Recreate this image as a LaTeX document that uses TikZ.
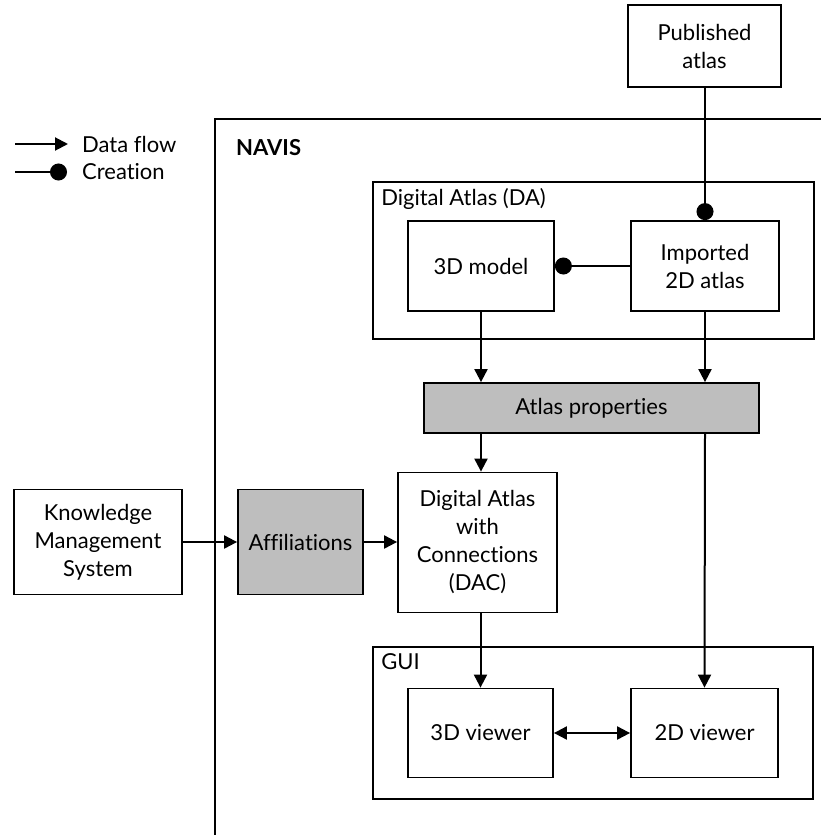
\documentclass[tikz,border=0pt]{standalone}
\usepackage{fontspec}
\setmainfont{Lato}[Ligatures=NoCommon]
\usetikzlibrary{positioning,arrows.meta}
\definecolor{Relleno}{HTML}{BEBEBE}

\begin{document}
\begin{tikzpicture}[x=1pt,y=-1pt,
    caja/.style={draw,line width=1.8pt,align=center,inner sep=0pt,font=\fontsize{22}{28}\selectfont},
    marco/.style={draw,line width=1.8pt,inner sep=0pt},
    rotulo/.style={anchor=west,inner sep=0pt,font=\fontsize{22}{28}\selectfont},
    flujo/.style={-{Triangle[length=13pt,width=13pt]},line width=2pt},
    crea/.style={-{Circle[length=17pt]},line width=2pt}]
  \useasboundingbox (0,0) rectangle (820,835);
  % leyenda
  \coordinate (flujoA) at (15,144);
  \coordinate (flujoB) at (68,144);
  \coordinate (creaA) at (15,172);
  \coordinate (creaB) at (67,172);
  \draw[flujo] (flujoA) -- (flujoB);
  \draw[crea] (creaA) -- (creaB);
  \node[rotulo] (leyflujo) at (82,144) {Data flow};
  \node[rotulo] (leycrea) at (82,172) {Creation};
  % NAVIS
  \draw[line width=2pt] (822,119) -| (215,837);
  \node[rotulo,font=\fontsize{22}{28}\selectfont\bfseries] (navis) at (236,148) {NAVIS};
  % contenedores
  \node[marco,minimum width=441,minimum height=157] (da) at (593.5,260.5) {};
  \node[rotulo,anchor=north west] (dalabel) at ([xshift=9pt,yshift=-7pt]da.north west) {Digital Atlas (DA)};
  \node[marco,minimum width=440,minimum height=152] (gui) at (593,723) {};
  \node[rotulo,anchor=north west] (guilabel) at ([xshift=9pt,yshift=-7pt]gui.north west) {GUI};
  % cajas
  \node[caja,minimum width=153,minimum height=82] (pub) at (704.5,46) {Published\\atlas};
  \node[caja,minimum width=146,minimum height=90] (model) at (481,266) {3D model};
  \node[caja,minimum width=148,minimum height=90] (imported) at (705,266) {Imported\\2D atlas};
  \node[caja,fill=Relleno,minimum width=335,minimum height=50] (props) at (591.5,408) {Atlas properties};
  \node[caja,minimum width=168,minimum height=105] (kms) at (98,542) {Knowledge\\Management\\System};
  \node[caja,fill=Relleno,minimum width=125,minimum height=105] (affil) at (300.5,542) {Affiliations};
  \node[caja,minimum width=159,minimum height=140] (dac) at (477.5,542.5) {Digital Atlas\\with\\Connections\\(DAC)};
  \node[caja,minimum width=145,minimum height=89] (viewer3d) at (480.5,733) {3D viewer};
  \node[caja,minimum width=147,minimum height=89] (viewer2d) at (704.5,733) {2D viewer};
  % conexiones
  \draw[crea] (pub.south -| imported.north) -- (imported.north);
  \draw[crea] (imported.west) -- (model.east);
  \draw[flujo] (model.south) -- (model.south |- props.north);
  \draw[flujo] (imported.south) -- (imported.south |- props.north);
  \draw[flujo] (props.south -| model.south) -- (dac.north -| model.south);
  \draw[flujo] (props.south -| imported.south) -- (viewer2d.north);
  \draw[flujo] (kms.east) -- (affil.west);
  \draw[flujo] (affil.east) -- (affil.east -| dac.west);
  \draw[flujo] (dac.south -| viewer3d.north) -- (viewer3d.north);
  \draw[{Triangle[length=13pt,width=13pt]}-{Triangle[length=13pt,width=13pt]},line width=2pt] (viewer3d.east) -- (viewer2d.west);
\end{tikzpicture}
\end{document}
